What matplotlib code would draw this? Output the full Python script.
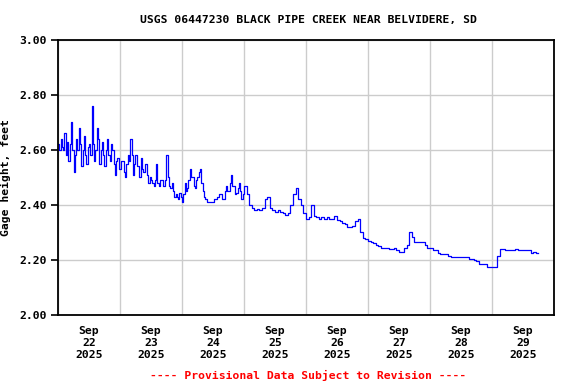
import numpy as np
import pandas as pd
import matplotlib
matplotlib.use('Agg')
import matplotlib.pyplot as plt
import matplotlib.dates as mdates

# half-hourly gage height readings, Sep 22 - Sep 24 2025 (noisy period)
day1 = [2.62, 2.60, 2.64, 2.61, 2.60, 2.66, 2.58, 2.63, 2.56, 2.62, 2.70, 2.60,
        2.52, 2.58, 2.64, 2.60, 2.68, 2.62, 2.54, 2.60, 2.65, 2.58, 2.55, 2.61,
        2.62, 2.58, 2.76, 2.62, 2.56, 2.60, 2.68, 2.64, 2.55, 2.60, 2.63, 2.58,
        2.54, 2.60, 2.64, 2.58, 2.56, 2.62, 2.60, 2.55, 2.51, 2.56, 2.57, 2.53]
day2 = [2.53, 2.56, 2.56, 2.52, 2.50, 2.55, 2.58, 2.56, 2.64, 2.58, 2.51, 2.55,
        2.58, 2.54, 2.54, 2.50, 2.57, 2.53, 2.52, 2.55, 2.55, 2.51, 2.48, 2.50,
        2.49, 2.48, 2.47, 2.49, 2.55, 2.48, 2.47, 2.49, 2.49, 2.47, 2.47, 2.49,
        2.58, 2.50, 2.47, 2.46, 2.48, 2.45, 2.43, 2.44, 2.43, 2.42, 2.445, 2.43]
day3 = [2.41, 2.44, 2.48, 2.45, 2.46, 2.49, 2.53, 2.50, 2.50, 2.47, 2.46, 2.49,
        2.50, 2.52, 2.53, 2.48, 2.45, 2.43, 2.42, 2.41, 2.41, 2.41, 2.41, 2.41,
        2.41, 2.42, 2.42, 2.43, 2.43, 2.44, 2.44, 2.42, 2.42, 2.45, 2.47, 2.45,
        2.45, 2.48, 2.51, 2.47, 2.47, 2.44, 2.445, 2.46, 2.48, 2.45, 2.42, 2.44]

# hourly gage height readings, Sep 25 00:00 onward
day4 = [2.47, 2.44, 2.40, 2.39, 2.38, 2.385, 2.38, 2.39, 2.42, 2.43, 2.39, 2.38,
        2.375, 2.38, 2.375, 2.37, 2.365, 2.37, 2.40, 2.44, 2.46, 2.42, 2.40, 2.37]
day5 = [2.35, 2.355, 2.40, 2.36, 2.355, 2.35, 2.355, 2.35, 2.355, 2.35, 2.35, 2.36,
        2.345, 2.34, 2.335, 2.33, 2.32, 2.32, 2.325, 2.34, 2.35, 2.30, 2.28, 2.275]
day6 = [2.27, 2.265, 2.26, 2.255, 2.25, 2.245, 2.245, 2.245, 2.24, 2.24, 2.245, 2.235,
        2.23, 2.23, 2.245, 2.255, 2.30, 2.285, 2.265, 2.265, 2.265, 2.265, 2.255, 2.245]
day7 = [2.245, 2.235, 2.235, 2.225, 2.22, 2.22, 2.22, 2.215, 2.21, 2.21, 2.21, 2.21,
        2.21, 2.21, 2.21, 2.205, 2.205, 2.20, 2.195, 2.185, 2.185, 2.185, 2.175, 2.175]
day8 = [2.175, 2.175, 2.215, 2.24, 2.24, 2.235, 2.235, 2.235, 2.235, 2.24, 2.235, 2.235,
        2.235, 2.235, 2.235, 2.225, 2.23, 2.225, 2.225]

early = day1 + day2 + day3
late = day4 + day5 + day6 + day7 + day8
gage = early + late
times = pd.date_range('2025-09-22 00:00', periods=len(early), freq='30min').append(
    pd.date_range('2025-09-25 00:00', periods=len(late), freq='h'))

title = 'USGS 06447230 BLACK PIPE CREEK NEAR BELVIDERE, SD'
ylabel = 'Gage height, feet'
note = '---- Provisional Data Subject to Revision ----'

mono = 'DejaVu Sans Mono'
fig = plt.figure(figsize=(5.76, 3.84), dpi=100)
ax = fig.add_axes([0.1007, 0.1797, 0.861, 0.7163])

ax.plot(times, gage, color='#0000ff', linewidth=0.9, drawstyle='steps-post')

ax.set_xlim(pd.Timestamp('2025-09-22'), pd.Timestamp('2025-09-30'))
ax.set_ylim(2.0, 3.0)

# labels at noon, grid lines at midnight
ax.xaxis.set_major_locator(mdates.HourLocator(byhour=[12]))
ax.xaxis.set_major_formatter(mdates.DateFormatter('%b\n%d\n%Y'))
ax.xaxis.set_minor_locator(mdates.DayLocator())
ax.tick_params(axis='x', which='both', length=0, pad=8)
ax.grid(True, axis='x', which='minor', color='#cccccc', linewidth=1.0)

ax.set_yticks(np.arange(2.0, 3.01, 0.2))
ax.yaxis.set_major_formatter(plt.FuncFormatter(lambda v, p: f'{v:.2f}'))
ax.tick_params(axis='y', length=5, width=1.2, pad=3)
ax.grid(True, axis='y', which='major', color='#cccccc', linewidth=1.0)
ax.set_axisbelow(True)

for lab in ax.get_xticklabels() + ax.get_yticklabels():
    lab.set_fontfamily(mono)
    lab.set_fontweight('bold')
    lab.set_fontsize(8.2)
for lab in ax.get_xticklabels():
    lab.set_linespacing(1.25)

for s in ax.spines.values():
    s.set_linewidth(1.3)

ax.set_ylabel(ylabel, fontfamily=mono, fontweight='bold', fontsize=8.2, labelpad=6)
fig.text(0.535, 0.948, title, ha='center', va='center', fontfamily=mono,
         fontweight='bold', fontsize=8.2)
fig.text(0.535, 0.023, note, ha='center', va='center', fontfamily=mono,
         fontweight='bold', fontsize=8.2, color='red')

fig.savefig('out.png', dpi=100)
